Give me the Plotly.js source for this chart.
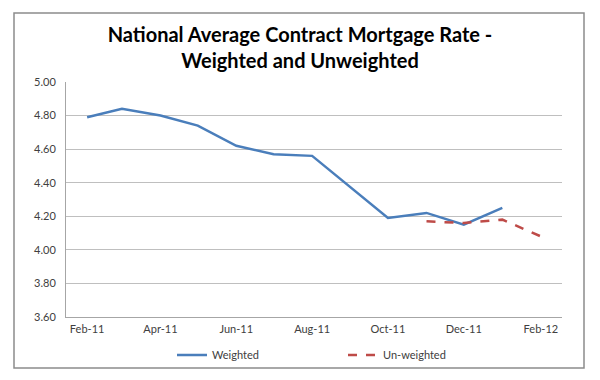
<!DOCTYPE html>
<html>
<head>
<meta charset="utf-8">
<script src="https://cdn.plot.ly/plotly-3.0.1.min.js"></script>
<style>body{margin:0;background:#fff}#chart{width:600px;height:380px}</style>
</head>
<body>
<div id="chart"></div>
<script>
var weightedDates = ["2011-02-01","2011-03-01","2011-04-01","2011-05-01","2011-06-01","2011-07-01","2011-08-01","2011-09-01","2011-10-01","2011-11-01","2011-12-01","2012-01-01"];
var weightedValues = [4.79,4.84,4.80,4.74,4.62,4.57,4.56,4.37,4.19,4.22,4.15,4.25];
var unweightedDates = ["2011-11-01","2011-12-01","2012-01-01","2012-02-01"];
var unweightedValues = [4.17,4.16,4.18,4.08];
var tickDates = ["2011-02-01","2011-04-01","2011-06-01","2011-08-01","2011-10-01","2011-12-01","2012-02-01"];
var tickLabels = ["Feb-11","Apr-11","Jun-11","Aug-11","Oct-11","Dec-11","Feb-12"];
var yTicks = [3.6,3.8,4.0,4.2,4.4,4.6,4.8,5.0];

var ml=66, mr=38, mt=82, mb=63, W=600, H=380;
var pw=W-ml-mr, ph=H-mt-mb;
function px(x){return (x-ml)/pw;}
function py(y){return (H-mb-y)/ph;}

var traces = [
  {x:weightedDates, y:weightedValues, name:"Weighted", type:"scatter", mode:"lines",
   line:{color:"#4A7EBB", width:2.5}},
  {x:unweightedDates, y:unweightedValues, name:"Un-weighted", type:"scatter", mode:"lines",
   line:{color:"#BE4B48", width:2.5, dash:"dash"}}
];
var layout = {
  width:W, height:H,
  margin:{l:ml, r:mr, t:mt, b:mb, autoexpand:false},
  paper_bgcolor:"#fff", plot_bgcolor:"#fff",
  font:{family:"Lato, 'Open Sans', sans-serif", size:11, color:"#404040"},
  title:{text:"<b>National Average Contract Mortgage Rate -<br>Weighted and Unweighted</b>",
         font:{family:"Lato, 'Open Sans', sans-serif", size:20, color:"#000"},
         x:0.5, xanchor:"center", y:0.89, yanchor:"middle"},
  xaxis:{type:"date", range:["2011-01-15","2012-02-18"], tickvals:tickDates, ticktext:tickLabels,
         showgrid:false, showline:true, linecolor:"#A6A6A6", linewidth:1, ticks:"", zeroline:false,
         ticklabelstandoff:2, tickfont:{size:11, color:"#404040"}},
  yaxis:{range:[3.6,5.0], tickvals:yTicks, ticktext:yTicks.map(function(v){return v.toFixed(2);}),
         showgrid:true, gridcolor:"#BFBFBF", gridwidth:1, showline:true, linecolor:"#A6A6A6", linewidth:1,
         ticks:"", zeroline:false, ticklabelstandoff:7, tickfont:{size:11, color:"#404040"}},
  showlegend:true,
  legend:{orientation:"h", x:px(172), xanchor:"left", y:py(355), yanchor:"middle",
          bgcolor:"rgba(0,0,0,0)",
          entrywidth:126, entrywidthmode:"pixels", font:{size:11, color:"#404040"}},
  shapes:[{type:"rect", xref:"paper", yref:"paper", x0:px(14), x1:px(584), y0:py(368), y1:py(13),
           line:{color:"#8C8C8C", width:1.5}, fillcolor:"rgba(0,0,0,0)", layer:"above"}]
};
Plotly.newPlot("chart", traces, layout, {displayModeBar:false, staticPlot:true});
</script>
</body>
</html>
